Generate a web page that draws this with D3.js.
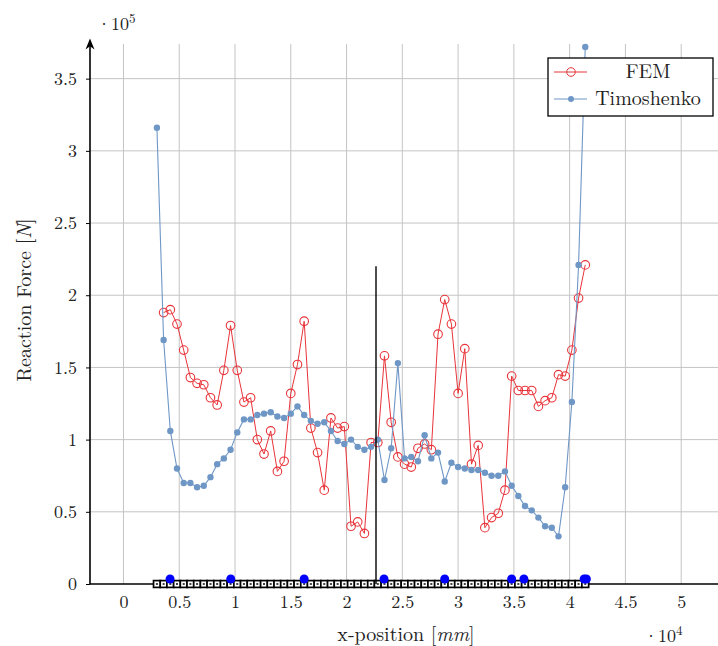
<!DOCTYPE html>
<html>
<head>
<meta charset="utf-8">
<script src="https://cdn.jsdelivr.net/npm/d3@7"></script>
<style>
  body { margin: 0; background: #fff; }
  svg text { font-family: "Latin Modern Roman", "CMU Serif", "Liberation Serif", serif; fill: #222; }
</style>
</head>
<body>
<svg id="chart" width="718" height="646"></svg>
<script>
// node positions along the beam [mm]
var xPos = [3000, 3600, 4200, 4800, 5400, 6000, 6600, 7200, 7800, 8400,
            9000, 9600, 10200, 10800, 11400, 12000, 12600, 13200, 13800, 14400,
            15000, 15600, 16200, 16800, 17400, 18000, 18600, 19200, 19800, 20400,
            21000, 21600, 22200, 22800, 23400, 24000, 24600, 25200, 25800, 26400,
            27000, 27600, 28200, 28800, 29400, 30000, 30600, 31200, 31800, 32400,
            33000, 33600, 34200, 34800, 35400, 36000, 36600, 37200, 37800, 38400,
            39000, 39600, 40200, 40800, 41400];

// reaction forces, x 10^5 N  (FEM has no value at the first node)
var fem = [null, 1.88, 1.90, 1.80, 1.62, 1.43, 1.39, 1.38, 1.29, 1.24,
           1.48, 1.79, 1.48, 1.26, 1.29, 1.00, 0.90, 1.06, 0.78, 0.85,
           1.32, 1.52, 1.82, 1.08, 0.91, 0.65, 1.15, 1.08, 1.09, 0.40,
           0.43, 0.35, 0.98, 0.98, 1.58, 1.12, 0.88, 0.83, 0.81, 0.94,
           0.97, 0.93, 1.73, 1.97, 1.80, 1.32, 1.63, 0.83, 0.96, 0.39,
           0.46, 0.49, 0.65, 1.44, 1.34, 1.34, 1.34, 1.23, 1.27, 1.29,
           1.45, 1.44, 1.62, 1.98, 2.21];

var timoshenko = [3.16, 1.69, 1.06, 0.80, 0.70, 0.70, 0.67, 0.68, 0.74, 0.83,
                  0.87, 0.93, 1.05, 1.14, 1.14, 1.17, 1.18, 1.19, 1.16, 1.15,
                  1.18, 1.23, 1.17, 1.13, 1.11, 1.12, 1.06, 0.99, 0.97, 1.00,
                  0.95, 0.93, 0.95, 1.00, 0.72, 0.94, 1.53, 0.87, 0.88, 0.85,
                  1.03, 0.87, 0.91, 0.71, 0.84, 0.81, 0.80, 0.79, 0.79, 0.77,
                  0.75, 0.75, 0.78, 0.68, 0.61, 0.54, 0.51, 0.46, 0.40, 0.39,
                  0.33, 0.67, 1.26, 2.21, 3.72];

// supports and the marker line
var supportX = [4180, 9620, 16200, 23360, 28800, 34800, 35900, 41300, 41500];
var markerLine = {x: 22640, top: 2.2};

var xTicks = [0, 5000, 10000, 15000, 20000, 25000, 30000, 35000, 40000, 45000, 50000];
var yTicks = [0, 0.5, 1, 1.5, 2, 2.5, 3, 3.5];

var svg = d3.select('#chart');
var x = d3.scaleLinear().domain([-3000, 53300]).range([90, 718]);
var y = d3.scaleLinear().domain([0, 3.74]).range([584, 44]);
var fmt = d3.format('~g');

var redC = '#e8343a', blueC = '#6f97c6';

// grid
svg.append('g').selectAll('line').data(xTicks).join('line')
  .attr('x1', d => x(d)).attr('x2', d => x(d))
  .attr('y1', y(3.74)).attr('y2', y(0))
  .attr('stroke', '#c4c4c4').attr('stroke-width', 1);
svg.append('g').selectAll('line').data(yTicks.slice(1)).join('line')
  .attr('x1', x.range()[0]).attr('x2', x.range()[1])
  .attr('y1', d => y(d)).attr('y2', d => y(d))
  .attr('stroke', '#c4c4c4').attr('stroke-width', 1);

// axes
var yAxis = svg.append('g').attr('transform', 'translate(' + x.range()[0] + ',0)')
  .call(d3.axisLeft(y).tickValues(yTicks).tickFormat(fmt).tickSize(4).tickPadding(9));
var xAxis = svg.append('g').attr('transform', 'translate(0,' + y(0) + ')')
  .call(d3.axisBottom(x).tickValues(xTicks).tickFormat(d => fmt(d / 1e4)).tickSize(0).tickPadding(11));
[yAxis, xAxis].forEach(function(a) {
  a.select('.domain').remove();
  a.selectAll('.tick line').attr('stroke', '#000');
  a.selectAll('.tick text').style('font-size', '18px').attr('fill', '#333');
});

svg.append('defs').append('marker')
  .attr('id', 'arrow').attr('viewBox', '0 0 10 10').attr('refX', 5).attr('refY', 5)
  .attr('markerWidth', 7).attr('markerHeight', 7).attr('orient', 'auto-start-reverse')
  .append('path').attr('d', 'M0,1 L10,5 L0,9 L3,5 Z').attr('fill', '#000');

svg.append('line')
  .attr('x1', x.range()[0]).attr('x2', x.range()[0])
  .attr('y1', y(0)).attr('y2', y(3.74))
  .attr('stroke', '#000').attr('stroke-width', 1.6)
  .attr('marker-end', 'url(#arrow)');
svg.append('line')
  .attr('x1', x.range()[0]).attr('x2', x.range()[1])
  .attr('y1', y(0)).attr('y2', y(0))
  .attr('stroke', '#000').attr('stroke-width', 1.6);

// beam nodes drawn as little squares on the axis
svg.append('g').selectAll('rect').data(xPos).join('rect')
  .attr('x', d => x(d) - 3.4).attr('y', y(0) - 3.4)
  .attr('width', 6.8).attr('height', 6.8)
  .attr('fill', '#fff').attr('stroke', '#000').attr('stroke-width', 1.7);
svg.append('g').selectAll('rect').data(xPos).join('rect')
  .attr('x', d => x(d) - 1).attr('y', y(0) - 1)
  .attr('width', 2).attr('height', 2)
  .attr('fill', '#444');

// FEM series
var femPts = xPos.map((d, i) => [d, fem[i]]).filter(p => p[1] != null);
svg.append('path').datum(femPts)
  .attr('d', d3.line().x(p => x(p[0])).y(p => y(p[1])))
  .attr('fill', 'none').attr('stroke', redC).attr('stroke-width', 1);
svg.append('g').selectAll('circle').data(femPts).join('circle')
  .attr('cx', p => x(p[0])).attr('cy', p => y(p[1])).attr('r', 4.3)
  .attr('fill', 'none').attr('stroke', redC).attr('stroke-width', 1.1);

// Timoshenko series
var timPts = xPos.map((d, i) => [d, timoshenko[i]]);
svg.append('path').datum(timPts)
  .attr('d', d3.line().x(p => x(p[0])).y(p => y(p[1])))
  .attr('fill', 'none').attr('stroke', blueC).attr('stroke-width', 1.1);
svg.append('g').selectAll('circle').data(timPts).join('circle')
  .attr('cx', p => x(p[0])).attr('cy', p => y(p[1])).attr('r', 3.2)
  .attr('fill', blueC);

// marker line
svg.append('line')
  .attr('x1', x(markerLine.x)).attr('x2', x(markerLine.x))
  .attr('y1', y(0)).attr('y2', y(markerLine.top))
  .attr('stroke', '#000').attr('stroke-width', 1.4);

// supports
svg.append('g').selectAll('circle').data(supportX).join('circle')
  .attr('cx', d => x(d)).attr('cy', y(0) - 5).attr('r', 4.5)
  .attr('fill', '#0000ff');

// labels
svg.append('text').attr('x', 406).attr('y', 641).attr('text-anchor', 'middle')
  .style('font-size', '20px')
  .html('x-position [<tspan font-style="italic">mm</tspan>]');
svg.append('text').attr('transform', 'translate(31,300) rotate(-90)').attr('text-anchor', 'middle')
  .style('font-size', '20px')
  .html('Reaction Force [<tspan font-style="italic">N</tspan>]');
svg.append('text').attr('x', 97).attr('y', 30).style('font-size', '18px')
  .html('·10<tspan dy="-7" font-size="13px">5</tspan>');
svg.append('text').attr('x', 644).attr('y', 642).style('font-size', '18px')
  .html('·10<tspan dy="-7" font-size="13px">4</tspan>');

// legend
var lg = svg.append('g');
lg.append('rect').attr('x', 548).attr('y', 58).attr('width', 165).attr('height', 58)
  .attr('fill', '#fff').attr('stroke', '#000').attr('stroke-width', 1.3);
var entries = [{name: 'FEM', c: redC, open: true, cy: 72}, {name: 'Timoshenko', c: blueC, open: false, cy: 99}];
entries.forEach(function(e) {
  lg.append('line').attr('x1', 554).attr('x2', 587).attr('y1', e.cy).attr('y2', e.cy)
    .attr('stroke', e.c).attr('stroke-width', 1);
  lg.append('circle').attr('cx', 571).attr('cy', e.cy).attr('r', e.open ? 4.3 : 3)
    .attr('fill', e.open ? 'none' : e.c).attr('stroke', e.open ? e.c : 'none');
  lg.append('text').attr('x', 648).attr('y', e.cy + 6).attr('text-anchor', 'middle')
    .style('font-size', '20px').text(e.name);
});
</script>
</body>
</html>
